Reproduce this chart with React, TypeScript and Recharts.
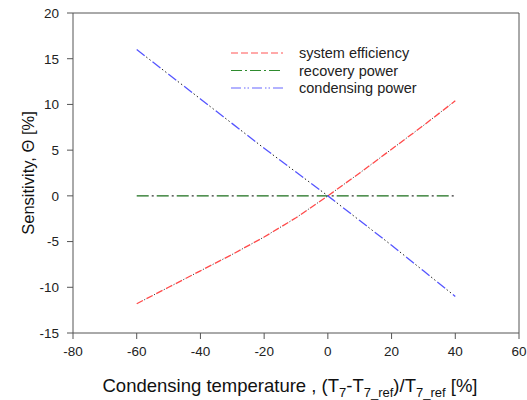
import React from "react"
import { LineChart, Line, XAxis, YAxis, ReferenceLine } from "recharts"

const xValues = [-60, -50, -40, -30, -20, -10, 0, 10, 20, 30, 40]
const systemEfficiency = [-11.8, -10.0, -8.2, -6.4, -4.5, -2.4, 0, 2.5, 5.1, 7.7, 10.4]
const recoveryPower = [0, 0, 0, 0, 0, 0, 0, 0, 0, 0, 0]
const condensingPower = [16.0, 13.3, 10.6, 7.9, 5.2, 2.6, 0, -2.7, -5.4, -8.2, -11.0]

const xTicks = [-80, -60, -40, -20, 0, 20, 40, 60]
const yTicks = [-15, -10, -5, 0, 5, 10, 15, 20]

const data = xValues.map((x, i) => ({
  x,
  eff: systemEfficiency[i],
  rec: recoveryPower[i],
  cond: condensingPower[i],
}))

const FONT = "'Liberation Sans', Arial, sans-serif"
const AXIS = "#555"
const TEXT = "#222"

const legendItems = [
  { label: "system efficiency", color: "#ff5555", dash: "7 3" },
  { label: "recovery power", color: "#2e8b2e", dash: "11 3 2 3" },
  { label: "condensing power", color: "#6666ff", dash: "10 3 1.5 2 1.5 3" },
]

function LegendBox() {
  return (
    <svg width={220} height={60} style={{ fontFamily: FONT, fontSize: 14.5, display: "block" }}>
      {legendItems.map((it, i) => (
        <g key={it.label} transform={`translate(0, ${9 + i * 17.5})`}>
          <line x1={2} x2={54} y1={0} y2={0} stroke={it.color} strokeWidth={1.2} strokeDasharray={it.dash} />
          <text x={70} y={5} fill={TEXT}>{it.label}</text>
        </g>
      ))}
    </svg>
  )
}

function XLabel(props: any) {
  const vb = props.viewBox || { x: 0, width: 0, y: 0, height: 0 }
  const cx = vb.x + vb.width / 2 - 6
  return (
    <text x={cx} y={392} textAnchor="middle" fill="#111" style={{ fontFamily: FONT, fontSize: 18.5 }}>
      <tspan>Condensing temperature , (T</tspan>
      <tspan fontSize={13} dy={5}>7</tspan>
      <tspan dy={-5}>-T</tspan>
      <tspan fontSize={13} dy={5}>7_ref</tspan>
      <tspan dy={-5}>)/T</tspan>
      <tspan fontSize={13} dy={5}>7_ref</tspan>
      <tspan dy={-5}> [%]</tspan>
    </text>
  )
}

function YLabel(props: any) {
  const vb = props.viewBox || { x: 0, width: 0, y: 0, height: 0 }
  const cy = vb.y + vb.height / 2
  return (
    <text
      x={28}
      y={cy}
      textAnchor="middle"
      dominantBaseline="central"
      transform={`rotate(-90, 28, ${cy})`}
      fill="#111"
      style={{ fontFamily: FONT, fontSize: 16.5 }}
    >
      Sensitivity, Θ [%]
    </text>
  )
}

export default function App() {
  return (
    <div style={{ width: 527, height: 400, background: "#fff", position: "relative" }}>
      <style>{"body{margin:0}"}</style>
      <LineChart width={527} height={400} data={data} margin={{ top: 13, right: 8, left: 33, bottom: 37 }}>
        <XAxis
          dataKey="x"
          type="number"
          domain={[-80, 60]}
          ticks={xTicks}
          height={30}
          stroke={AXIS}
          tickSize={6}
          tickMargin={7}
          tick={{ fill: TEXT, fontSize: 13.5, fontFamily: FONT }}
          label={<XLabel />}
        />
        <YAxis
          type="number"
          domain={[-15, 20]}
          ticks={yTicks}
          width={40}
          stroke={AXIS}
          tickSize={6}
          tickMargin={8}
          tick={{ fill: TEXT, fontSize: 13.5, fontFamily: FONT }}
          label={<YLabel />}
        />
        <ReferenceLine y={20} stroke={AXIS} />
        <ReferenceLine x={60} stroke={AXIS} />
        <Line dataKey="eff" stroke="#ff4a4a" strokeWidth={1.3} strokeDasharray="7 4" dot={false} isAnimationActive={false} />
        <Line dataKey="eff" stroke="#222" strokeWidth={1} strokeDasharray="0 8.5 1 1.5" dot={false} isAnimationActive={false} />
        <Line dataKey="rec" stroke="#1a6e1a" strokeWidth={1.3} strokeDasharray="12 8" dot={false} isAnimationActive={false} />
        <Line dataKey="rec" stroke="#333" strokeWidth={1.2} strokeDasharray="0 15 2 3" dot={false} isAnimationActive={false} />
        <Line dataKey="cond" stroke="#5555ff" strokeWidth={1.3} strokeDasharray="10 10" dot={false} isAnimationActive={false} />
        <Line dataKey="cond" stroke="#222" strokeWidth={1} strokeDasharray="0 12 1.5 2.5 1.5 2.5" dot={false} isAnimationActive={false} />
      </LineChart>
      <div style={{ position: "absolute", left: 229, top: 44 }}>
        <LegendBox />
      </div>
    </div>
  )
}
